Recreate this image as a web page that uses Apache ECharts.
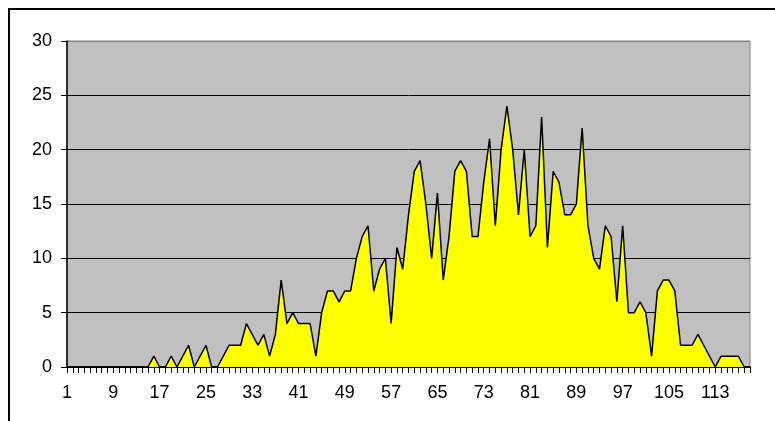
<!DOCTYPE html>
<html>
<head>
<meta charset="utf-8">
<script src="https://cdn.jsdelivr.net/npm/echarts@6/dist/echarts.min.js"></script>
<style>
	html, body {
		margin: 0;
		padding: 0;
		background: #ffffff;
	}
	#chart {
		width: 775px;
		height: 421px;
	}
</style>
</head>
<body>
<div id="chart"></div>
<script>
	// categories 1..119
	const categories = []
	for (let i = 1; i <= 119; i++) {
		categories.push(String(i))
	}

	// counts per category
	const counts = [
		0, 0, 0, 0, 0, 0, 0, 0, 0, 0,
		0, 0, 0, 0, 0, 1, 0, 0, 1, 0,
		1, 2, 0, 1, 2, 0, 0, 1, 2, 2,
		2, 4, 3, 2, 3, 1, 3, 8, 4, 5,
		4, 4, 4, 1, 5, 7, 7, 6, 7, 7,
		10, 12, 13, 7, 9, 10, 4, 11, 9, 14,
		18, 19, 15, 10, 16, 8, 12, 18, 19, 18,
		12, 12, 17, 21, 13, 20, 24, 20, 14, 20,
		12, 13, 23, 11, 18, 17, 14, 14, 15, 22,
		13, 10, 9, 13, 12, 6, 13, 5, 5, 6,
		5, 1, 7, 8, 8, 7, 2, 2, 2, 3,
		2, 1, 0, 1, 1, 1, 1, 0, 0
	]

	const yMin = 0
	const yMax = 30
	const yStep = 5

	const chart = echarts.init(document.getElementById("chart"))
	chart.setOption({
		animation: false,
		backgroundColor: "#ffffff",
		graphic: [
			{
				type: "rect",
				shape: { x: 9, y: 9, width: 800, height: 450 },
				style: { fill: "none", stroke: "#000000", lineWidth: 2 },
				silent: true
			}
		],
		grid: {
			left: 67,
			right: 25,
			top: 41,
			bottom: 54,
			show: true,
			backgroundColor: "#c0c0c0",
			borderColor: "#808080",
			borderWidth: 1
		},
		xAxis: {
			type: "category",
			boundaryGap: false,
			data: categories,
			axisLine: {
				show: true,
				lineStyle: { color: "#000000", width: 1.5 }
			},
			axisTick: {
				show: true,
				interval: 0,
				length: 6,
				lineStyle: { color: "#000000", width: 1 }
			},
			axisLabel: {
				interval: 7,
				margin: 17,
				color: "#000000",
				fontFamily: "Liberation Sans, Arial, sans-serif",
				fontSize: 18
			},
			splitLine: { show: false }
		},
		yAxis: {
			type: "value",
			min: yMin,
			max: yMax,
			interval: yStep,
			axisLine: {
				show: true,
				lineStyle: { color: "#000000", width: 1.5 }
			},
			axisTick: {
				show: true,
				length: 6,
				lineStyle: { color: "#000000", width: 1 }
			},
			axisLabel: {
				margin: 15,
				color: "#000000",
				fontFamily: "Liberation Sans, Arial, sans-serif",
				fontSize: 18
			},
			splitLine: {
				show: true,
				lineStyle: {
					color: ["#000000", "#000000", "#000000", "#000000", "#000000", "#000000", "#808080"],
					width: 1
				}
			}
		},
		series: [
			{
				type: "line",
				data: counts,
				symbol: "none",
				lineStyle: { color: "#000000", width: 1.5 },
				areaStyle: { color: "#ffff00", opacity: 1 }
			}
		]
	})
</script>
</body>
</html>
